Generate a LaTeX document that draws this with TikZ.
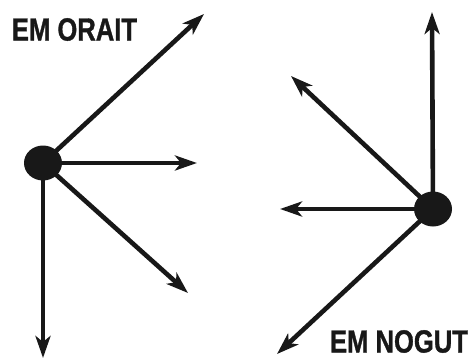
\documentclass[tikz,border=0pt]{standalone}
\usepackage{fontspec}
\setmainfont{Liberation Sans}
\newfontfamily\lblfont[FakeBold=1.2]{Liberation Sans Bold}
\usetikzlibrary{arrows.meta,shapes.geometric}
\definecolor{ink}{RGB}{24,24,24}
\begin{document}
\begin{tikzpicture}[x=1pt,y=-1pt,
  vec/.style={draw=ink,line width=4.6pt,-{Stealth[length=22pt,width=15pt,inset=6pt]}},
  dot/.style={ellipse,fill=ink,minimum width=38pt,minimum height=35pt,inner sep=0pt},
  lbl/.style={text=ink,font=\lblfont\fontsize{32}{32}\selectfont,inner sep=0pt}]
\useasboundingbox (0,0) rectangle (474,359);
% left group
\coordinate (L) at (43,163);
\coordinate (l1) at (204,14);
\coordinate (l2) at (197,163);
\coordinate (l3) at (188,293);
\coordinate (l4) at (43,358);
\draw[vec] (L) -- (l1);
\draw[vec] (L) -- (l2);
\draw[vec] (L) -- (l3);
\draw[vec] (L) -- (l4);
\node[dot] (dl) at (L) {};
\node[lbl] (tl) at (74.5,29.5) {\scalebox{0.8}[1]{EM ORAIT}};
% right group
\coordinate (R) at (433,209);
\coordinate (r1) at (432,12);
\coordinate (r2) at (291,76);
\coordinate (r3) at (280,209);
\coordinate (r4) at (277,354);
\draw[vec] (R) -- (r1);
\draw[vec] (R) -- (r2);
\draw[vec] (R) -- (r3);
\draw[vec] (R) -- (r4);
\node[dot] (dr) at (R) {};
\node[lbl] (tr) at (399,341.5) {\scalebox{0.8}[1]{EM NOGUT}};
\end{tikzpicture}
\end{document}
